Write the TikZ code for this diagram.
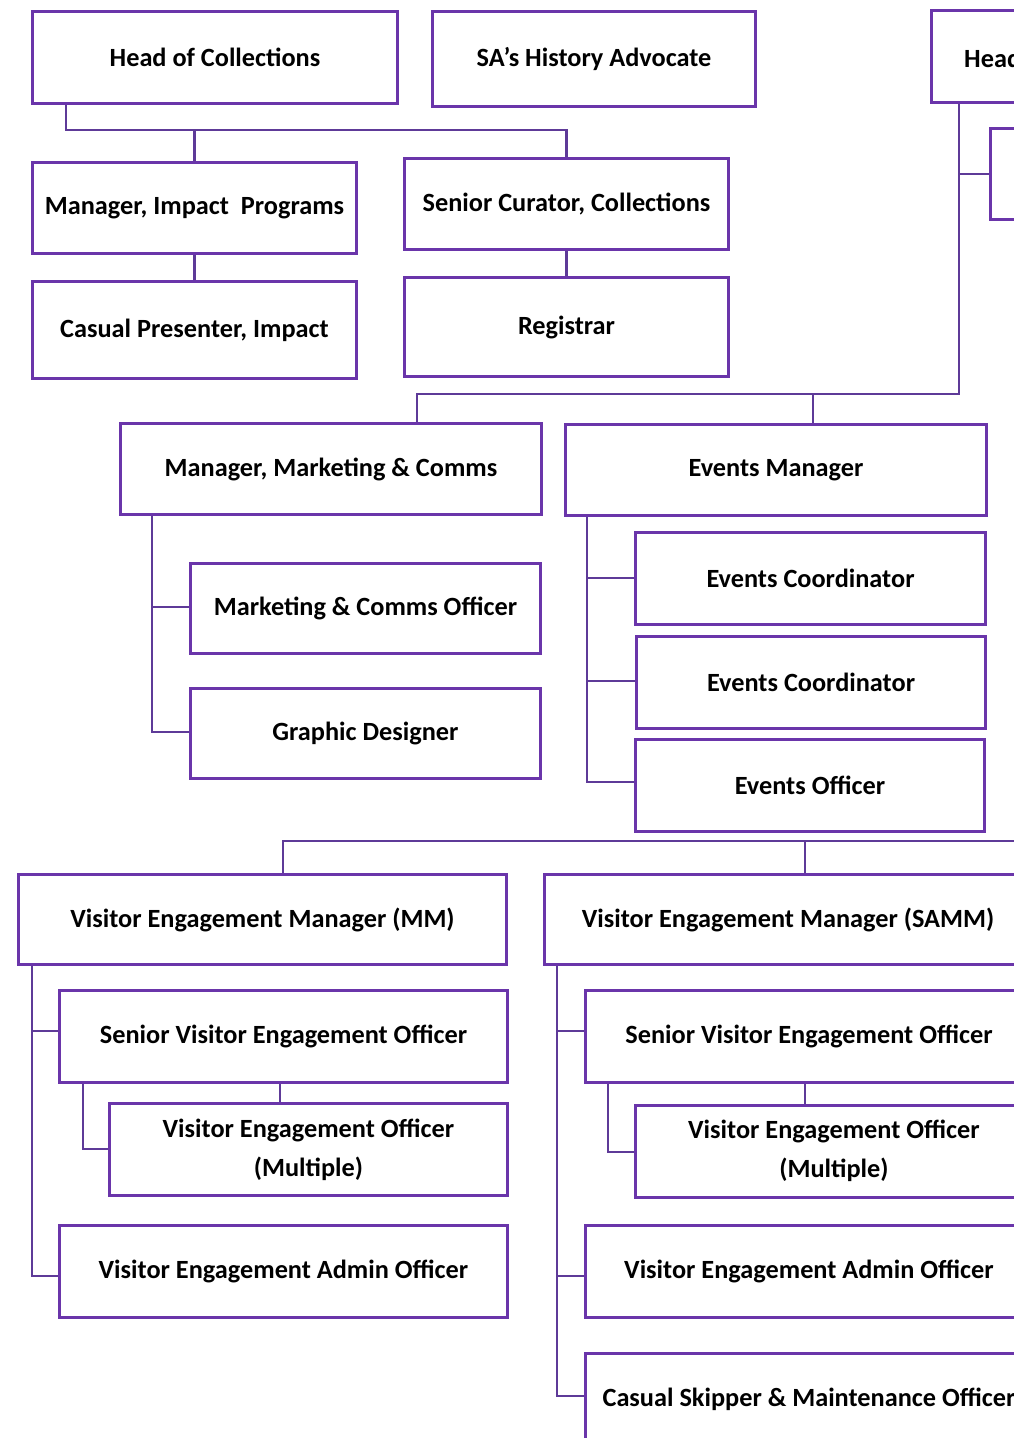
\documentclass[tikz,border=0pt]{standalone}
\usepackage{fontspec}
\setmainfont{Carlito}
\definecolor{boxc}{HTML}{6A35AA}
\definecolor{linec}{HTML}{5E3A98}
\begin{document}
\begin{tikzpicture}[x=1pt,y=-1pt,
  box/.style={draw=boxc,line width=3pt,fill=white,inner sep=0pt,align=center,
    font=\fontsize{26.3}{39}\selectfont\bfseries},
  conn/.style={draw=linec,line width=2.2pt}]
\useasboundingbox (0,0) rectangle (1014,1438);
\clip (0,0) rectangle (1014,1438);
\coordinate (j1) at (66,130);
\coordinate (j2) at (959,394);
\coordinate (j3) at (1100,841);
\coordinate (j4) at (283,841);
% nodes
\node[box,minimum width=365,minimum height=92] (hoc) at (215,57.5) {Head of Collections};
\node[box,minimum width=323,minimum height=95] (saha) at (594,59) {SA’s History Advocate};
\node[box,minimum width=300,minimum height=92,anchor=west] (hd) at (929.5,56.5) {};
\node[font=\fontsize{26.3}{39}\selectfont\bfseries,anchor=west,inner sep=0pt] (hdt) at (964,58.5) {Head};
\node[box,minimum width=200,minimum height=91,anchor=west] (sb) at (988.5,174) {};
\node[box,minimum width=324,minimum height=91] (mip) at (194.5,208) {Manager, Impact\ \ Programs};
\node[box,minimum width=324,minimum height=97] (cpi) at (194.5,330) {Casual Presenter, Impact};
\node[box,minimum width=324,minimum height=91] (scc) at (566.5,204) {Senior Curator, Collections};
\node[box,minimum width=324,minimum height=99] (reg) at (566.5,327) {Registrar};
\node[box,minimum width=421,minimum height=91] (mmc) at (331,469) {Manager, Marketing \& Comms};
\node[box,minimum width=350,minimum height=90] (mco) at (365.5,608.5) {Marketing \& Comms Officer};
\node[box,minimum width=350,minimum height=90] (gd) at (365.5,733.5) {Graphic Designer};
\node[box,minimum width=421,minimum height=91] (em) at (776,470) {Events Manager};
\node[box,minimum width=350,minimum height=92] (ec1) at (810.5,578.5) {Events Coordinator};
\node[box,minimum width=349,minimum height=92] (ec2) at (811,682.5) {Events Coordinator};
\node[box,minimum width=349,minimum height=92] (eo) at (810,785.5) {Events Officer};
\node[box,minimum width=488,minimum height=90] (vem) at (262.5,919.5) {Visitor Engagement Manager (MM)};
\node[box,minimum width=448,minimum height=92] (svo1) at (283.5,1036.5) {Senior Visitor Engagement Officer};
\node[box,minimum width=398,minimum height=92] (veo1) at (308.5,1149.5) {Visitor Engagement Officer\\(Multiple)};
\node[box,minimum width=448,minimum height=92] (vea1) at (283.5,1271.5) {Visitor Engagement Admin Officer};
\node[box,minimum width=488,minimum height=90] (vem2) at (788,919.5) {Visitor Engagement Manager (SAMM)};
\node[box,minimum width=448,minimum height=92] (svo2) at (809,1036.5) {Senior Visitor Engagement Officer};
\node[box,minimum width=398,minimum height=92] (veo2) at (834,1151) {Visitor Engagement Officer\\(Multiple)};
\node[box,minimum width=448,minimum height=92] (vea2) at (809,1271.5) {Visitor Engagement Admin Officer};
\node[box,minimum width=448,minimum height=92] (csm) at (809,1399) {Casual Skipper \& Maintenance Officer};
% connectors
\draw[conn] (hoc.south -| j1) -- (j1) -- (j1 -| scc.north) -- (scc.north);
\draw[conn] (j1 -| mip.north) -- (mip.north);
\draw[conn] (mip.south) -- (cpi.north);
\draw[conn] (scc.south) -- (reg.north);
\draw[conn] (hd.south -| j2) -- (j2) -- (j2 -| 417,0) -- (417,422);
\draw[conn] (j2 -| 813,0) -- (813,423);
\draw[conn] (959,174) -- (sb.west);
\draw[conn] (152,516) -- (152,732) -- (gd.west |- 152,732);
\draw[conn] (152,607) -- (mco.west |- 152,607);
\draw[conn] (587,517) -- (587,782) -- (eo.west |- 587,782);
\draw[conn] (587,578) -- (ec1.west |- 587,578);
\draw[conn] (587,681) -- (ec2.west |- 587,681);
\draw[conn] (j3) -- (j4) -- (vem.north -| j4);
\draw[conn] (805,841) -- (vem2.north -| 805,0);
\draw[conn] (32,966) -- (32,1276) -- (vea1.west |- 32,1276);
\draw[conn] (32,1031) -- (svo1.west |- 32,1031);
\draw[conn] (83,1084) -- (83,1149) -- (veo1.west |- 83,1149);
\draw[conn] (280,1084) -- (280,1102);
\draw[conn] (557,966) -- (557,1396) -- (csm.west |- 557,1396);
\draw[conn] (557,1031) -- (svo2.west |- 557,1031);
\draw[conn] (557,1276) -- (vea2.west |- 557,1276);
\draw[conn] (608,1084) -- (608,1152) -- (veo2.west |- 608,1152);
\draw[conn] (805,1084) -- (805,1104);
\end{tikzpicture}
\end{document}
